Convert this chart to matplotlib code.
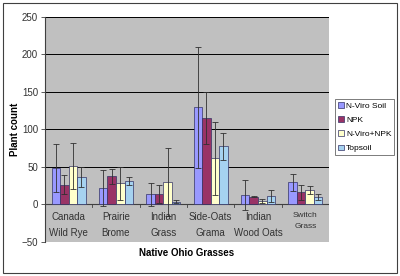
import numpy as np
import matplotlib
matplotlib.use('Agg')
import matplotlib.pyplot as plt

plt.rcParams['font.family'] = ['Liberation Sans', 'DejaVu Sans']

grasses = ['Canada\nWild Rye', 'Prairie\nBrome', 'Indian\nGrass',
           'Side-Oats\nGrama', 'Indian\nWood Oats', 'Switch\nGrass']
series = ['N-Viro Soil', 'NPK', 'N-Viro+NPK', 'Topsoil']

nviro = [48, 21, 13, 129, 12, 29]
npk = [26, 37, 13, 115, 10, 16]
nviro_npk = [51, 28, 30, 61, 4, 19]
topsoil = [36, 31, 3, 77, 11, 10]

nviro_err = [32, 24, 15, 81, 20, 11]
npk_err = [13, 10, 12, 35, 1, 10]
nviro_npk_err = [31, 22, 45, 49, 3, 5]
topsoil_err = [13, 5, 2, 18, 8, 4]

colors = ['#9999FF', '#993366', '#FFFFCC', '#A6D2F0']

fig = plt.figure(figsize=(4, 2.76), dpi=100)
fig.patch.set_facecolor('white')
# outer frame
fig.patches.append(plt.Rectangle((0.008, 0.012), 0.984, 0.976, transform=fig.transFigure,
                                 fill=False, edgecolor='#404040', linewidth=0.8))

ax = fig.add_axes([0.1125, 0.124, 0.71, 0.816])
ax.set_facecolor('#C0C0C0')

x = np.arange(len(grasses))
w = 0.18
vals = [nviro, npk, nviro_npk, topsoil]
errs = [nviro_err, npk_err, nviro_npk_err, topsoil_err]
for i in range(4):
    pos = x + (i - 1.5) * w
    ax.bar(pos, vals[i], w, color=colors[i], edgecolor='#333366', linewidth=0.5,
           label=series[i], zorder=3)
    ax.errorbar(pos, vals[i], yerr=errs[i], fmt='none', ecolor='#303030',
                elinewidth=0.6, capsize=2, capthick=0.6, zorder=4)

ax.set_xlim(-0.5, len(grasses) - 0.5)
ax.set_ylim(-50, 250)
ax.set_yticks(range(-50, 251, 50))
for y in range(50, 251, 50):
    ax.axhline(y, color='black', linewidth=0.7, zorder=1)
ax.axhline(0, color='#404040', linewidth=0.8, zorder=2)

for s in ['top', 'right', 'bottom']:
    ax.spines[s].set_visible(False)
ax.spines['left'].set_color('#404040')
ax.spines['left'].set_linewidth(0.8)
ax.tick_params(axis='y', labelsize=7, length=3, width=0.6, color='#404040',
               pad=2, labelcolor='#333333')

# category ticks on the zero line
ax.set_xticks([])
for b in np.arange(0.5, len(grasses) - 0.5, 1.0):
    ax.plot([b, b], [0, -4], color='#404040', linewidth=0.6, zorder=2)
for i, g in enumerate(grasses):
    fs = 6 if g.startswith('Switch') else 7
    ax.text(i, -11, g, ha='center', va='top', fontsize=fs, color='#333333',
            linespacing=1.65)

ax.set_ylabel('Plant count', fontsize=7, fontweight='bold', labelpad=1)
fig.text(0.4675, 0.083, 'Native Ohio Grasses', ha='center', va='center',
         fontsize=7, fontweight='bold')

leg = fig.legend(loc='upper left', bbox_to_anchor=(0.837, 0.64), fontsize=6,
                 frameon=True, fancybox=False, edgecolor='#404040',
                 handlelength=0.7, handleheight=0.7, handletextpad=0.3,
                 borderpad=0.35, borderaxespad=0.0, labelspacing=0.75)
leg.get_frame().set_linewidth(0.6)

fig.savefig('out.png', dpi=100)
